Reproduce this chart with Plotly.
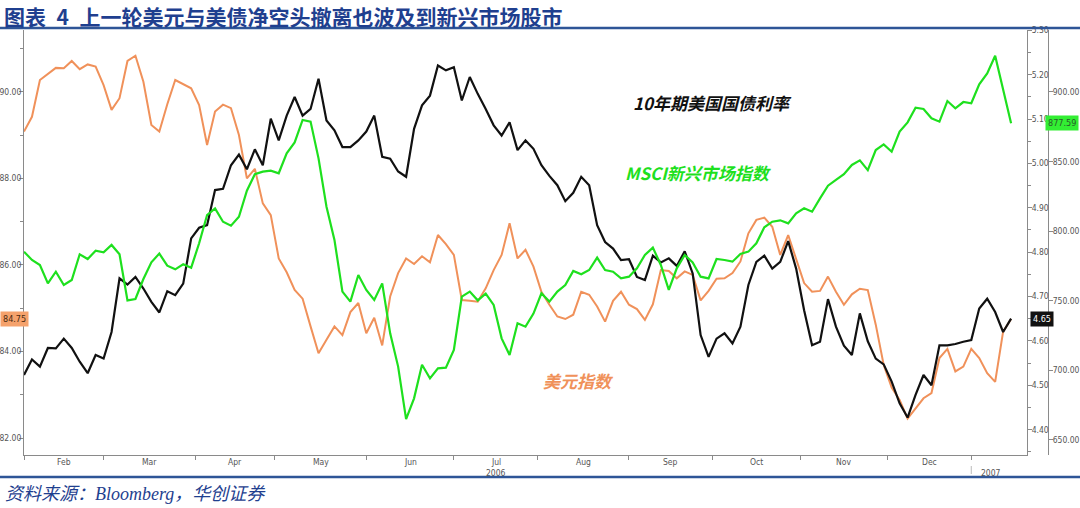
import pandas as pd
import plotly.graph_objects as go

# ---------------- data (every 2nd trading day from 2006-02-01) ----------------
usd_index = [89.08, 89.42, 90.27, 90.40, 90.55, 90.54, 90.71, 90.52, 90.63, 90.58,
             90.15, 89.58, 89.85, 90.71, 90.83, 90.23, 89.23, 89.08, 89.71, 90.27,
             90.17, 90.08, 89.69, 88.77, 89.54, 89.70, 89.62, 89.00, 88.00, 88.22,
             87.42, 87.15, 86.15, 85.83, 85.42, 85.22, 84.58, 83.96, 84.27, 84.58,
             84.38, 84.91, 85.12, 84.42, 84.78, 84.14, 85.27, 85.81, 86.15, 86.02,
             86.20, 86.06, 86.69, 86.48, 86.23, 85.19, 85.17, 85.15, 85.46, 85.88,
             86.23, 86.96, 86.15, 86.35, 85.96, 85.38, 85.08, 84.81, 84.75, 84.85,
             85.38, 85.31, 85.04, 84.69, 85.17, 85.38, 85.08, 84.98, 84.73, 85.09,
             85.88, 85.86, 85.69, 85.85, 85.77, 85.18, 85.40, 85.68, 85.69, 85.81,
             86.08, 86.73, 87.04, 87.09, 86.88, 86.23, 86.69, 86.15, 85.58, 85.38,
             85.40, 85.73, 85.38, 85.08, 85.32, 85.45, 85.42, 84.62, 83.69, 83.17,
             82.88, 82.45, 82.69, 82.92, 83.04, 83.85, 84.06, 83.54, 83.65, 84.06,
             83.85, 83.50, 83.30, 84.46, 84.75]

ust10y_yield = [4.523, 4.558, 4.542, 4.584, 4.583, 4.605, 4.584, 4.553, 4.527, 4.568,
                4.560, 4.620, 4.741, 4.727, 4.744, 4.718, 4.688, 4.664, 4.712, 4.703,
                4.729, 4.831, 4.855, 4.861, 4.940, 4.943, 4.996, 5.020, 4.987, 5.032,
                4.996, 5.101, 5.052, 5.108, 5.150, 5.108, 5.123, 5.191, 5.097, 5.075,
                5.037, 5.037, 5.052, 5.072, 5.108, 5.015, 5.011, 4.982, 4.970, 5.078,
                5.131, 5.153, 5.221, 5.210, 5.217, 5.142, 5.195, 5.157, 5.123, 5.086,
                5.063, 5.093, 5.030, 5.052, 5.033, 4.996, 4.972, 4.951, 4.915, 4.934,
                4.970, 4.951, 4.861, 4.823, 4.808, 4.782, 4.784, 4.744, 4.737, 4.792,
                4.777, 4.786, 4.769, 4.802, 4.752, 4.613, 4.564, 4.605, 4.617, 4.594,
                4.632, 4.726, 4.778, 4.792, 4.763, 4.778, 4.825, 4.763, 4.669, 4.590,
                4.598, 4.694, 4.632, 4.589, 4.568, 4.662, 4.599, 4.560, 4.547, 4.508,
                4.459, 4.427, 4.478, 4.523, 4.500, 4.590, 4.590, 4.593, 4.598, 4.602,
                4.673, 4.695, 4.665, 4.620, 4.650]

msci_em = [785.3, 779.3, 775.7, 762.5, 770.9, 761.3, 764.9, 783.4, 780.0, 786.0,
           784.8, 790.1, 783.4, 750.3, 751.3, 765.6, 777.6, 783.9, 775.2, 772.6,
           776.2, 773.8, 791.3, 811.6, 816.4, 806.8, 804.0, 810.4, 829.1, 840.9,
           842.8, 843.5, 841.6, 855.9, 863.8, 879.9, 878.7, 852.3, 817.6, 793.7,
           756.6, 749.4, 768.5, 757.8, 750.6, 762.5, 726.6, 702.7, 665.0, 679.9,
           704.0, 694.3, 701.5, 702.0, 714.7, 753.0, 756.6, 750.3, 755.1, 747.0,
           723.0, 711.1, 733.8, 731.4, 740.8, 755.4, 749.4, 756.6, 761.3, 771.4,
           769.0, 772.1, 781.0, 772.1, 770.9, 766.1, 767.3, 773.3, 782.9, 788.2,
           775.7, 757.8, 773.3, 782.9, 777.6, 767.3, 766.1, 780.0, 779.3, 778.1,
           783.6, 785.3, 791.3, 802.8, 806.8, 807.8, 805.6, 812.8, 816.4, 814.0,
           823.6, 832.7, 836.8, 840.9, 847.6, 850.9, 843.9, 858.3, 862.4, 857.1,
           871.5, 878.2, 888.7, 887.8, 881.1, 878.7, 893.5, 888.3, 892.8, 891.9,
           905.5, 913.4, 926.0, 902.6, 877.59]

month_labels = ["Feb", "Mar", "Apr", "May", "Jun", "Jul", "Aug", "Sep", "Oct", "Nov", "Dec"]
year_labels = ["2006", "2007"]

dates = pd.bdate_range("2006-02-01", periods=2 * len(usd_index) - 1)[::2]

# ---------------- geometry ----------------
W, H = 1080, 508
ML, MR, MT, MB = 24, 20, 30, 53
PW, PH = W - ML - MR, H - MT - MB


def px(x):
    return (x - ML) / PW


def py(y):
    return (H - MB - y) / PH


ORANGE = "#F0915A"
GREEN = "#1EE01E"
BLACK = "#111111"
BLUE = "#1F3F8F"
AXC = "#8a8a8a"
TICKF = dict(family="DejaVu Sans Condensed, Liberation Sans, sans-serif", size=8.5, color="#555555")

fig = go.Figure()
fig.add_trace(go.Scatter(x=dates, y=msci_em, yaxis="y3", mode="lines",
                         line=dict(color=GREEN, width=2.2), name="MSCI新兴市场指数"))
fig.add_trace(go.Scatter(x=dates, y=ust10y_yield, yaxis="y2", mode="lines",
                         line=dict(color=BLACK, width=2.2), name="10年期美国国债利率"))
fig.add_trace(go.Scatter(x=dates, y=usd_index, yaxis="y", mode="lines",
                         line=dict(color=ORANGE, width=2.0), name="美元指数"))

# month boundary ticks and centred month labels
month_starts = pd.date_range("2006-02-01", "2007-01-01", freq="MS")
tickvals = [pd.bdate_range(m, m + pd.offsets.MonthEnd(0))[0] for m in month_starts]

annotations = []
for m, lab in zip(month_starts[:-1], month_labels):
    bd = pd.bdate_range(m, m + pd.offsets.MonthEnd(0))
    mid = bd[len(bd) // 2] + (pd.Timedelta(hours=12) if len(bd) % 2 else pd.Timedelta(0))
    annotations.append(dict(x=mid, xref="x", y=py(462), yref="paper", text=lab,
                            showarrow=False, font=TICKF, yanchor="middle"))
    if lab == "Jul":
        annotations.append(dict(x=mid, xref="x", y=py(473), yref="paper", text=year_labels[0],
                                showarrow=False, font=TICKF, yanchor="middle"))
annotations.append(dict(x="2007-01-08", xref="x", y=py(473), yref="paper", text=year_labels[1],
                        showarrow=False, font=TICKF, yanchor="middle"))

# title / source
annotations.append(dict(x=px(3), y=py(0), xref="paper", yref="paper", xanchor="left",
                        yanchor="top", showarrow=False, borderpad=0,
                        text="<b>图表\u20024\u2002上一轮美元与美债净空头撤离也波及到新兴市场股市</b>",
                        font=dict(family="Noto Sans CJK SC", size=21, color=BLUE)))
annotations.append(dict(x=px(3), y=py(494), xref="paper", yref="paper", xanchor="left",
                        yanchor="middle", showarrow=False,
                        text="<i>资料来源：Bloomberg，华创证券</i>",
                        font=dict(family="Liberation Serif, Noto Sans CJK SC", size=18, color=BLUE)))

# series labels
for txt, cx, cy, col in [("10年期美国国债利率", 712, 88, BLACK),
                         ("MSCI新兴市场指数", 698, 158, GREEN),
                         ("美元指数", 578, 395, ORANGE)]:
    annotations.append(dict(x=px(cx), y=py(cy), xref="paper", yref="paper", showarrow=False,
                            text=f"<b><i>{txt}</i></b>",
                            font=dict(family="Noto Sans CJK SC", size=17, color=col)))

# last-value boxes
BOXF = "DejaVu Sans Condensed, Liberation Sans, sans-serif"
annotations.append(dict(x=px(0), xref="paper", y=usd_index[-1], yref="y", xanchor="left",
                        text=f"{usd_index[-1]:.2f}", showarrow=False, bgcolor="#F5A26C",
                        borderpad=2, font=dict(family=BOXF, size=9, color="#4a2a10")))
annotations.append(dict(x=px(1030), xref="paper", y=ust10y_yield[-1], yref="y2", xanchor="left",
                        text=f"{ust10y_yield[-1]:.2f}", showarrow=False, bgcolor="#111111",
                        borderpad=2, font=dict(family=BOXF, size=9, color="white")))
annotations.append(dict(x=px(1079), xref="paper", y=msci_em[-1], yref="y3", xanchor="right",
                        text=f"{msci_em[-1]:.2f}", showarrow=False, bgcolor="#33EE33",
                        borderpad=2, font=dict(family=BOXF, size=9, color="#2a5a2a")))

shapes = [
    dict(type="line", xref="paper", yref="paper", x0=px(0), x1=px(W), y0=py(28), y1=py(28),
         line=dict(color="#2E5597", width=2.5)),
    dict(type="line", xref="paper", yref="paper", x0=px(0), x1=px(W), y0=py(477), y1=py(477),
         line=dict(color="#2E5597", width=2.5)),
    dict(type="line", xref="x", yref="paper", x0=tickvals[-1], x1=tickvals[-1],
         y0=py(466), y1=py(474), line=dict(color="#bbbbbb", width=1)),
]

fig.update_layout(
    width=W, height=H, template="none",
    paper_bgcolor="white", plot_bgcolor="white",
    margin=dict(l=ML, r=MR, t=MT, b=MB, autoexpand=False),
    showlegend=False,
    xaxis=dict(domain=[0, px(1027)], type="date",
               range=["2006-02-01", "2007-01-19"],
               rangebreaks=[dict(bounds=["sat", "mon"])],
               tickmode="array", tickvals=tickvals, ticktext=[""] * len(tickvals),
               ticks="outside", ticklen=4, tickcolor=AXC,
               showline=True, linecolor=AXC, linewidth=1, showgrid=False, zeroline=False,
               automargin=False),
    yaxis=dict(range=[81.61, 91.425], tick0=82, dtick=2, tickformat=".2f",
               ticks="outside", ticklen=4, tickcolor=AXC, tickfont=TICKF, ticklabelstandoff=-4,
               minor=dict(tick0=81, dtick=1, ticks="outside", ticklen=3, tickcolor=AXC, showgrid=False),
               showline=True, linecolor=AXC, linewidth=1, showgrid=False, zeroline=False,
               automargin=False),
    yaxis2=dict(overlaying="y", side="right", anchor="x",
                range=[4.3426, 5.301], tick0=4.4, dtick=0.1, tickformat=".2f",
                ticks="outside", ticklen=4, tickcolor=AXC, tickfont=TICKF, ticklabelstandoff=-2,
                minor=dict(tick0=4.35, dtick=0.05, ticks="outside", ticklen=3, tickcolor=AXC, showgrid=False),
                showline=True, linecolor=AXC, linewidth=1, showgrid=False, zeroline=False,
                automargin=False),
    yaxis3=dict(overlaying="y", side="right", anchor="free", position=px(1048),
                range=[639.2, 944.54], tick0=650, dtick=50, tickformat=".2f",
                ticks="outside", ticklen=4, tickcolor=AXC, tickfont=TICKF, ticklabelstandoff=-2,
                showline=True, linecolor=AXC, linewidth=1, showgrid=False, zeroline=False,
                automargin=False),
    annotations=annotations,
    shapes=shapes,
)

fig.write_html("out.html", config={"displayModeBar": False},
               post_script="document.body.style.margin='0';document.body.style.padding='0';"
                           "document.body.style.overflow='hidden';")
